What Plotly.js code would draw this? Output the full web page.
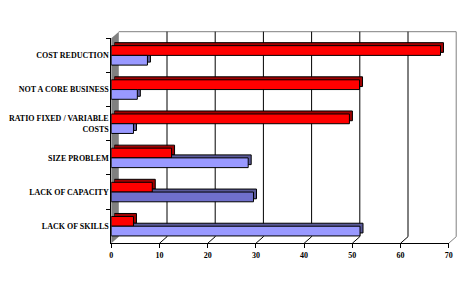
<!DOCTYPE html>
<html><head><meta charset="utf-8">
<script src="https://cdn.plot.ly/plotly-3.0.1.min.js"></script>
<style>html,body{margin:0;padding:0;background:#fff}#c{width:464px;height:289px}</style>
</head><body><div id="c"></div>
<script>
const categories = ['COST REDUCTION','NOT A CORE BUSINESS','RATIO FIXED / VARIABLE<br>COSTS','SIZE PROBLEM','LACK OF CAPACITY','LACK OF SKILLS'];
const redValues = [68.3, 51.5, 49.4, 12.5, 8.5, 4.6];
const blueValues = [7.5, 5.4, 4.6, 28.4, 29.5, 51.6];
const xTicks = [0,10,20,30,40,50,60,70];

const W = 464, H = 289;
const F = {x0:111.3, x1:448.7, yT:38.3, yB:243.3};
const BK = {dx:7.5, dy:-6.6};
const EX = {dx:3, dy:-3};
const px = v => v / W, py = v => 1 - v / H;
function dom(dx, dy){ return {x:[px(F.x0+dx), px(F.x1+dx)], y:[py(F.yB+dy), py(F.yT+dy)]}; }
const dEx = dom(EX.dx, EX.dy), dFront = dom(0,0);

const blueColors = blueValues.map((v,i)=> i===4 ? '#7070CC' : '#9999FF');
const font = {family:'Liberation Serif', size:8, color:'#000', weight:'bold'};

const traces = [
  {type:'bar', orientation:'h', y:categories, x:redValues, xaxis:'x2', yaxis:'y2',
   marker:{color:'#A00000', line:{color:'#000', width:1}}, hoverinfo:'skip'},
  {type:'bar', orientation:'h', y:categories, x:blueValues, xaxis:'x2', yaxis:'y2',
   marker:{color:'#5A5A99', line:{color:'#000', width:1}}, hoverinfo:'skip'},
  {type:'bar', orientation:'h', y:categories, x:redValues, xaxis:'x3', yaxis:'y3',
   marker:{color:'#FF0000', line:{color:'#000', width:1}}},
  {type:'bar', orientation:'h', y:categories, x:blueValues, xaxis:'x3', yaxis:'y3',
   marker:{color:blueColors, line:{color:'#000', width:1}}}
];

const hidden = {showgrid:false, showticklabels:false, zeroline:false, showline:false, ticks:''};
const shapes = [];
const scale = (F.x1 - F.x0) / 70;
// left gray wall
shapes.push({type:'path', xref:'paper', yref:'paper', layer:'below',
  path:`M ${px(F.x0)} ${py(F.yT)} L ${px(F.x0+BK.dx)} ${py(F.yT+BK.dy)} L ${px(F.x0+BK.dx)} ${py(F.yB+BK.dy)} L ${px(F.x0)} ${py(F.yB)} Z`,
  fillcolor:'#808080', line:{width:0}});
// back wall border
shapes.push({type:'path', xref:'paper', yref:'paper', layer:'below',
  path:`M ${px(F.x0+BK.dx)} ${py(F.yT+BK.dy)} L ${px(F.x1+BK.dx)} ${py(F.yT+BK.dy)} L ${px(F.x1+BK.dx)} ${py(F.yB+BK.dy)} L ${px(F.x1)} ${py(F.yB)}`,
  line:{color:'#808080', width:1}});
// back wall + floor grid lines
xTicks.slice(1,-1).forEach(v=>{
  const xf = F.x0 + v*scale;
  shapes.push({type:'path', xref:'paper', yref:'paper', layer:'below',
    path:`M ${px(xf)} ${py(F.yB)} L ${px(xf+BK.dx)} ${py(F.yB+BK.dy)} L ${px(xf+BK.dx)} ${py(F.yT+BK.dy)}`,
    line:{color:'#000', width:1}});
});

const layout = {
  width:W, height:H, margin:{l:0,r:0,t:0,b:0},
  paper_bgcolor:'#fff', plot_bgcolor:'rgba(0,0,0,0)',
  showlegend:false, barmode:'group', bargap:0.43, bargroupgap:0,
  font:font,
  xaxis2:Object.assign({domain:dEx.x, range:[0,70], anchor:'y2'}, hidden),
  yaxis2:Object.assign({domain:dEx.y, type:'category', autorange:false, range:[5.5,-0.5], anchor:'x2'}, hidden),
  xaxis3:{domain:dFront.x, range:[0,70], tickvals:xTicks, showgrid:false, zeroline:false,
          showline:true, linecolor:'#000', linewidth:1, ticks:'outside', ticklen:4, tickcolor:'#000',
          tickfont:font, anchor:'y3'},
  yaxis3:{domain:dFront.y, type:'category', autorange:false, range:[5.5,-0.5], showgrid:false, zeroline:false,
          showline:true, linecolor:'#000', linewidth:1, ticks:'outside', ticklen:4, tickcolor:'#000',
          tickson:'boundaries', tickfont:font, anchor:'x3'},
  shapes:shapes
};
Plotly.newPlot('c', traces, layout, {staticPlot:true, displayModeBar:false});
</script></body></html>
